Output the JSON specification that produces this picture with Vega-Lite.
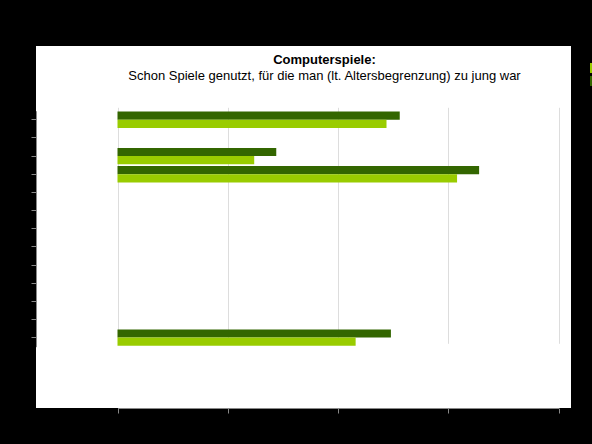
{
  "$schema": "https://vega.github.io/schema/vega-lite/v6.json",
  "background": "black",
  "autosize": "none",
  "padding": {"left": 36, "top": 46, "right": 21, "bottom": 36},
  "width": 535,
  "height": 362,
  "config": {
    "view": {"fill": "white", "stroke": null},
    "font": "Liberation Sans"
  },
  "title": {
    "text": "Computerspiele:",
    "subtitle": "Schon Spiele genutzt, für die man (lt. Altersbegrenzung) zu jung war",
    "anchor": "middle",
    "fontSize": 13,
    "fontWeight": "bold",
    "subtitleFontSize": 13,
    "offset": -37,
    "dx": 21
  },
  "datasets": {
    "bars": [
      {"category": "Gesamt", "series": "2008, n=937", "value": 64},
      {"category": "Gesamt", "series": "2005, n=819", "value": 61},
      {"category": "Mädchen", "series": "2008, n=937", "value": 36},
      {"category": "Mädchen", "series": "2005, n=819", "value": 31},
      {"category": "Jungen", "series": "2008, n=937", "value": 82},
      {"category": "Jungen", "series": "2005, n=819", "value": 77},
      {"category": "Gymnasium", "series": "2008, n=937", "value": 62},
      {"category": "Gymnasium", "series": "2005, n=819", "value": 54}
    ]
  },
  "layer": [
    {
      "data": {"name": "bars"},
      "mark": {"type": "bar"},
      "encoding": {
        "x": {
          "field": "value",
          "type": "quantitative",
          "scale": {"domain": [0, 100], "range": [81.5, 522.5], "nice": false},
          "axis": {"orient": "bottom", "values": [0, 25, 50, 75, 100], "title": null}
        },
        "y": {
          "field": "category",
          "type": "nominal",
          "scale": {
            "type": "band",
            "domain": ["Gesamt", "gap1", "Mädchen", "Jungen", "gap2", "12-13 Jahre", "14-15 Jahre", "16-17 Jahre", "18-19 Jahre", "gap3", "Hauptschule", "Realschule", "Gymnasium"],
            "range": [64.7, 300.7],
            "paddingInner": 0.1,
            "paddingOuter": 0.05
          },
          "axis": {"orient": "left", "title": null}
        },
        "yOffset": {
          "field": "series",
          "type": "nominal",
          "scale": {"domain": ["2008, n=937", "2005, n=819"], "paddingInner": 0}
        },
        "color": {
          "field": "series",
          "type": "nominal",
          "scale": {"domain": ["2005, n=819", "2008, n=937"], "range": ["#99cc00", "#336600"]}
        }
      }
    }
  ]
}
